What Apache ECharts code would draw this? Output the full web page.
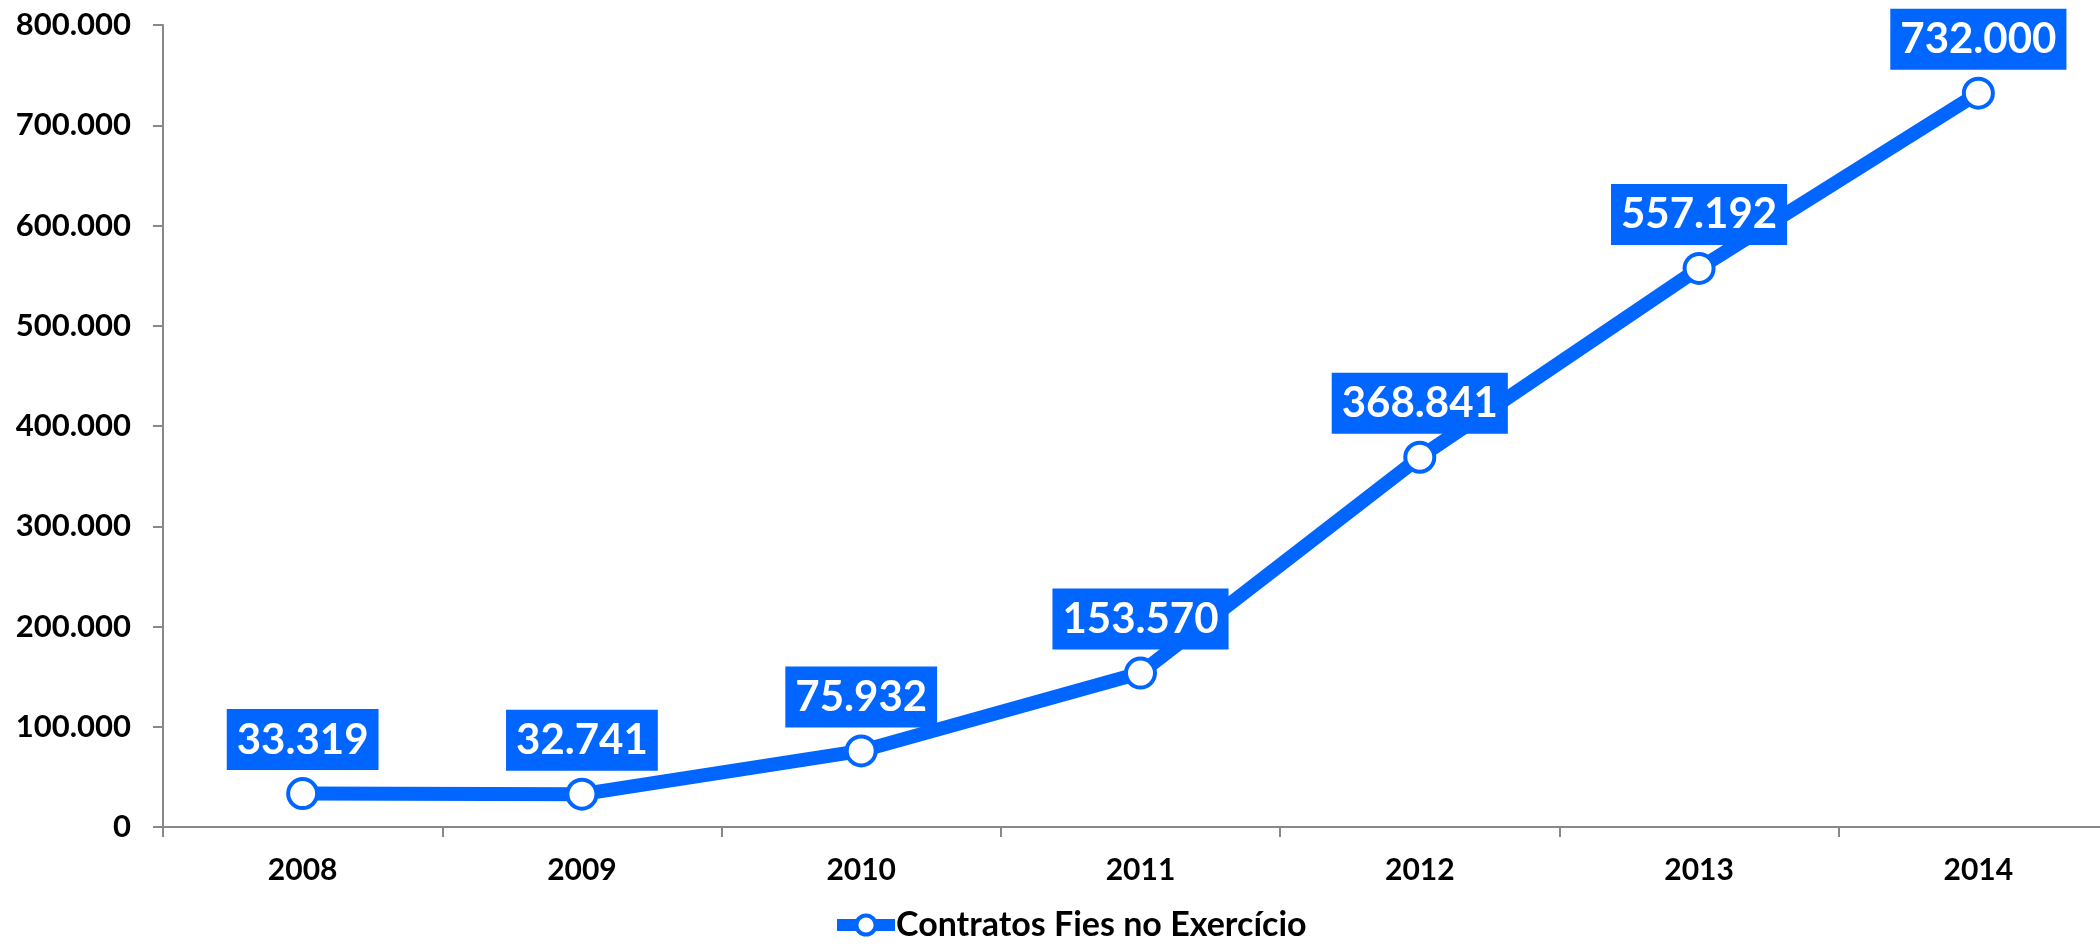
<!DOCTYPE html>
<html>
<head>
<meta charset="utf-8">
<script src="https://cdn.jsdelivr.net/npm/echarts@6/dist/echarts.min.js"></script>
<style>
  html, body { margin: 0; padding: 0; background: #ffffff; }
  #chart { width: 2100px; height: 947px; }
</style>
</head>
<body>
<div id="chart"></div>
<script>
// Contratos do Fies firmados por ano
const years = ['2008', '2009', '2010', '2011', '2012', '2013', '2014'];
const contratos = [33319, 32741, 75932, 153570, 368841, 557192, 732000];
const seriesName = 'Contratos Fies no Exercício';

const BLUE = '#0066FF';
const FONT = 'Lato, "Open Sans", sans-serif';

// Brazilian thousands separator: 732000 -> 732.000
function fmt(v) {
  return String(Math.round(v)).replace(/\B(?=(\d{3})+(?!\d))/g, '.');
}

const chart = echarts.init(document.getElementById('chart'));
chart.setOption({
  animation: false,
  // plot area runs slightly past the right edge of the canvas
  grid: { left: 163, width: 1955, top: 25, bottom: 120, containLabel: false, outerBoundsMode: 'none' },
  legend: {
    bottom: 0,
    left: 826,
    itemWidth: 58,
    itemHeight: 24,
    itemGap: 0,
    lineStyle: { width: 12 },
    itemStyle: { borderWidth: 4 },
    textStyle: { fontFamily: FONT, fontWeight: 'bold', fontSize: 34, color: '#000', padding: [0, 0, 0, -4] },
    data: [seriesName]
  },
  xAxis: {
    type: 'category',
    data: years,
    boundaryGap: true,
    axisLine: { lineStyle: { color: '#888888', width: 2 } },
    axisTick: { show: true, length: 10, lineStyle: { color: '#888888', width: 2 } },
    axisLabel: { margin: 28, fontFamily: FONT, fontWeight: 'bold', fontSize: 30, color: '#000' },
    splitLine: { show: false }
  },
  yAxis: {
    type: 'value',
    min: 0,
    max: 800000,
    interval: 100000,
    axisLine: { show: true, lineStyle: { color: '#888888', width: 2 } },
    axisTick: { show: true, length: 10, lineStyle: { color: '#888888', width: 2 } },
    axisLabel: {
      margin: 32,
      fontFamily: FONT, fontWeight: 'bold', fontSize: 31, color: '#000',
      formatter: fmt
    },
    splitLine: { show: false }
  },
  series: [{
    name: seriesName,
    type: 'line',
    data: contratos,
    lineStyle: { color: BLUE, width: 14 },
    itemStyle: { color: '#ffffff', borderColor: BLUE, borderWidth: 4 },
    symbol: 'circle',
    symbolSize: 29,
    showAllSymbol: true,
    label: {
      show: true,
      position: 'top',
      distance: 7,
      formatter: p => fmt(p.value),
      fontFamily: FONT,
      fontWeight: 'bold',
      fontSize: 42,
      lineHeight: 44,
      color: '#ffffff',
      backgroundColor: BLUE,
      padding: [9, 10, 8, 10]
    }
  }]
});
</script>
</body>
</html>
